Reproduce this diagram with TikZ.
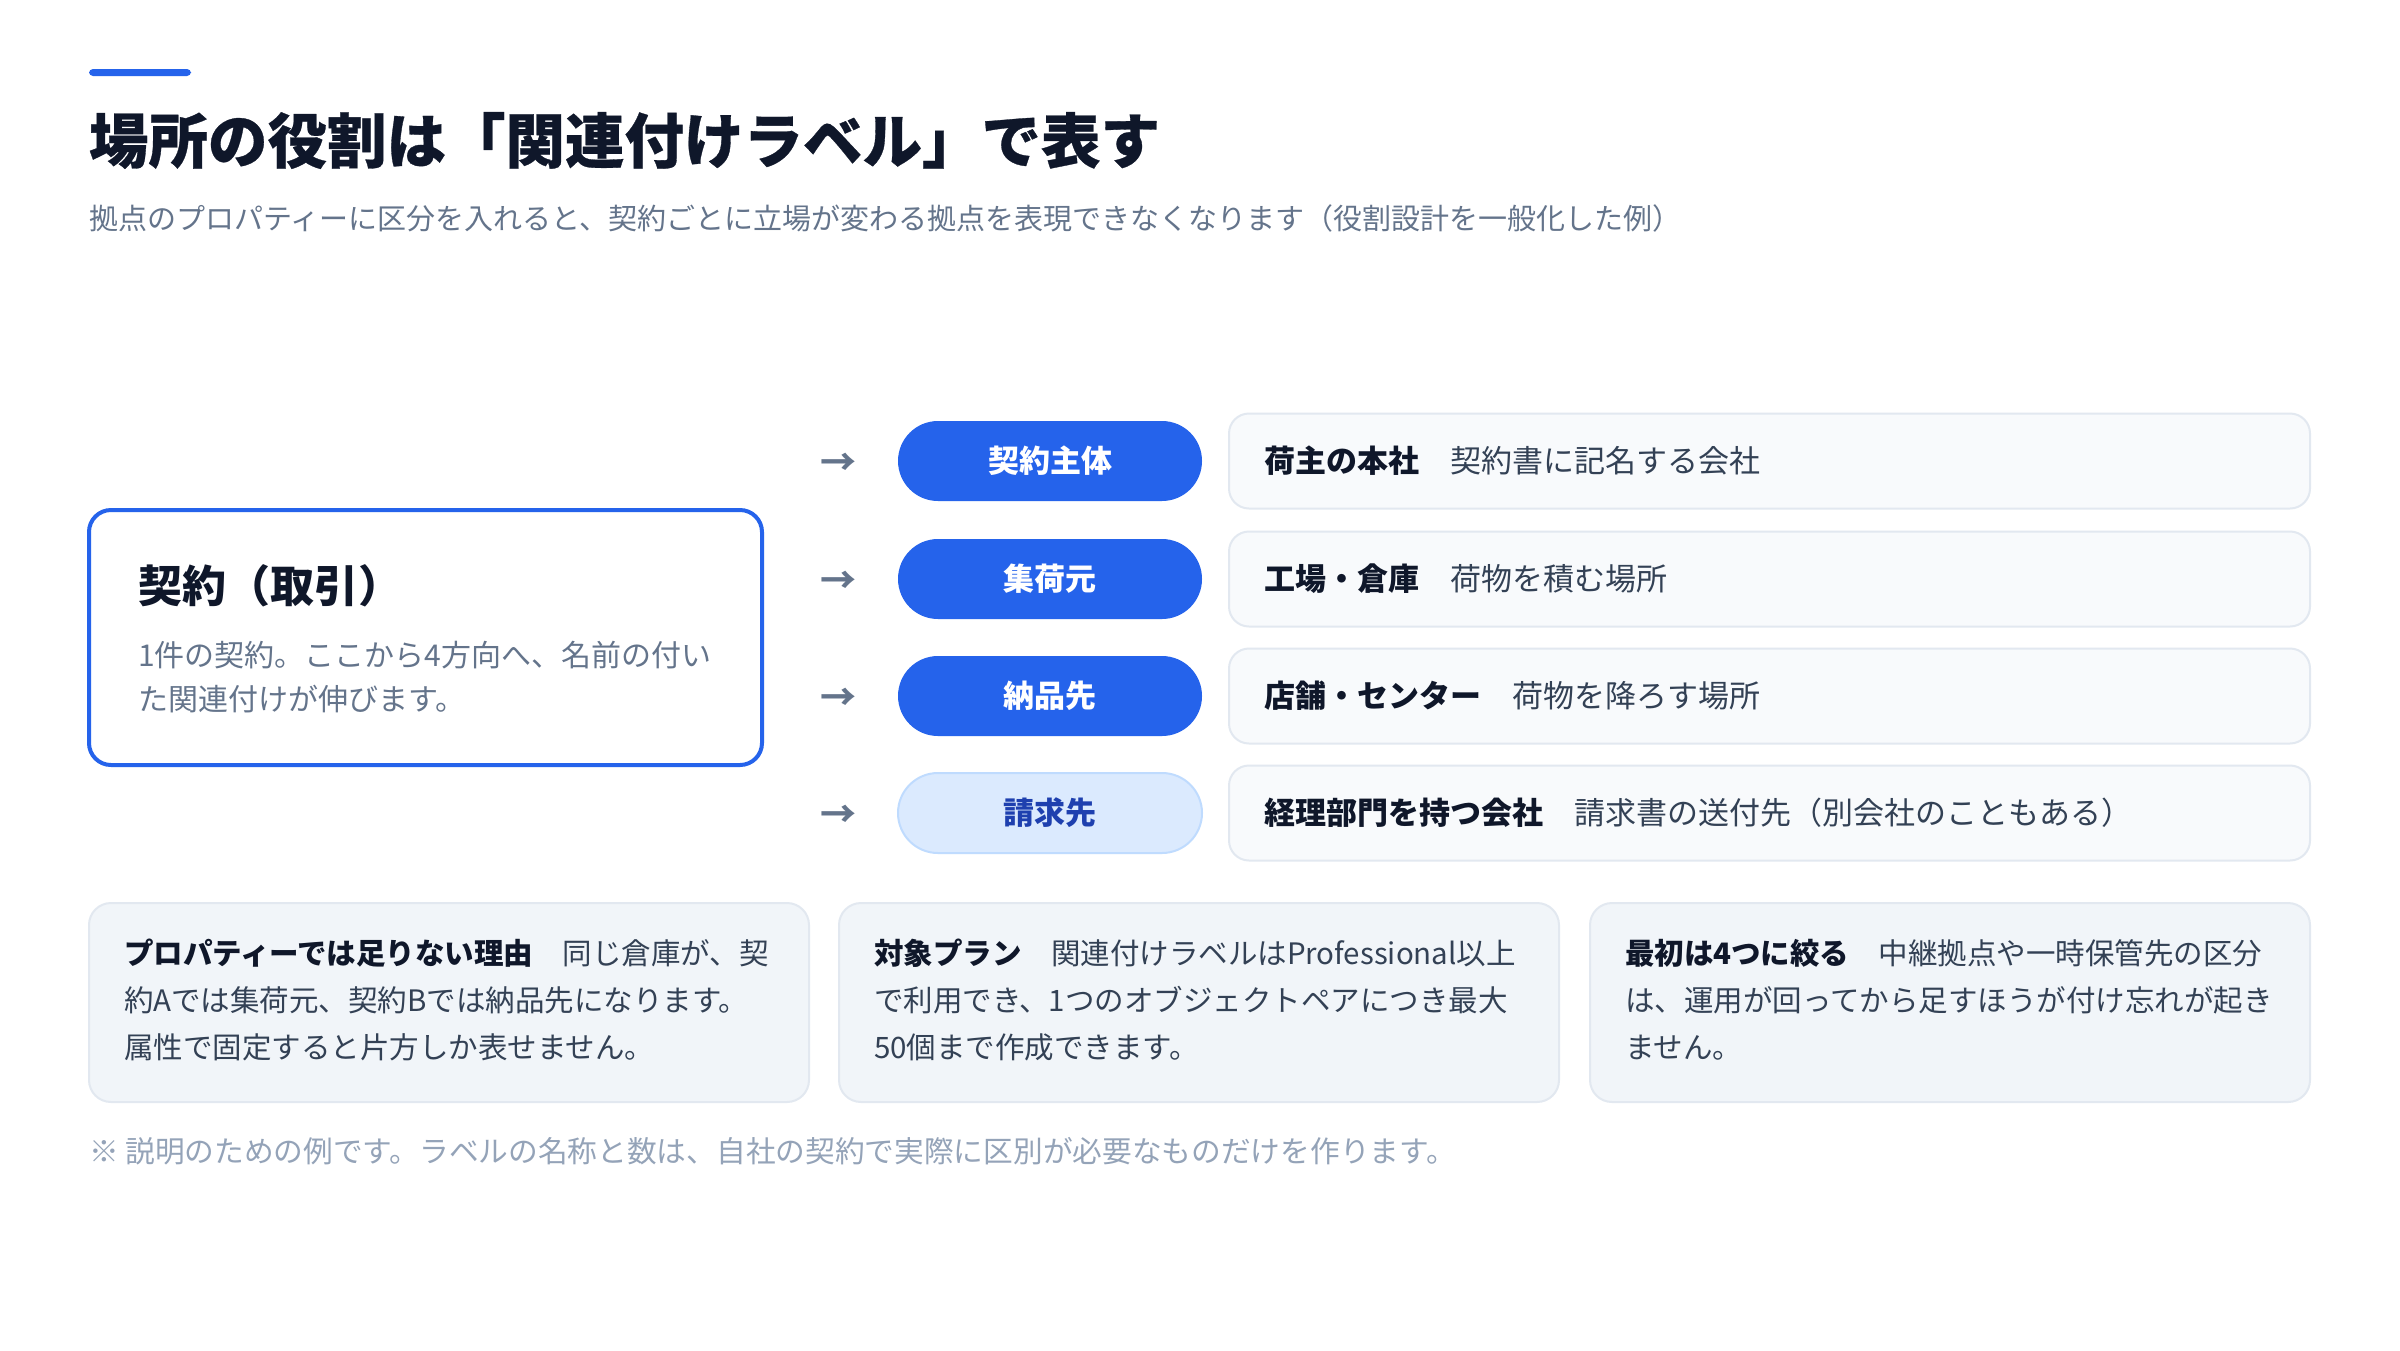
\documentclass[tikz,border=0pt]{standalone}
\usepackage{fontspec}
\setmainfont{Noto Sans CJK JP}
\definecolor{accent}{HTML}{2563EB}
\definecolor{ink}{HTML}{0F172A}
\definecolor{body}{HTML}{334155}
\definecolor{muted}{HTML}{64748B}
\definecolor{faint}{HTML}{94A3B8}
\definecolor{cardfill}{HTML}{F8FAFC}
\definecolor{notefill}{HTML}{F1F5F9}
\definecolor{cardline}{HTML}{E2E8F0}
\definecolor{lightpill}{HTML}{DBEAFE}
\definecolor{lightpillline}{HTML}{BFDBFE}
\definecolor{lightpilltext}{HTML}{1E40AF}
\begin{document}
\begin{tikzpicture}[x=1pt,y=-1pt,
  txt/.style={inner sep=0pt, outer sep=0pt, anchor=base west},
  ctxt/.style={inner sep=0pt, outer sep=0pt, anchor=west},
  pillbox/.style={minimum width=304pt, minimum height=80pt, rounded corners=40pt, inner sep=0pt, outer sep=0pt,
    font=\fontsize{31}{36}\selectfont\bfseries},
  rolecard/.style={draw=cardline, line width=2pt, fill=cardfill, rounded corners=20pt,
    minimum width=1081pt, minimum height=95pt, inner sep=0pt, outer sep=0pt},
  notecard/.style={draw=cardline, line width=2pt, fill=notefill, rounded corners=22pt,
    minimum width=720pt, minimum height=199pt, inner sep=0pt, outer sep=0pt, anchor=north west},
  arrowglyph/.style={inner sep=0pt, outer sep=0pt, text=muted, font=\fontsize{36}{40}\selectfont\bfseries},
  cardtext/.style={ctxt, font=\fontsize{31}{36}\selectfont, text=body},
  notetext/.style={txt, font=\fontsize{29.5}{36}\selectfont, text=body}
]
\useasboundingbox (0,0) rectangle (2400,1350);
\fill[white] (0,0) rectangle (2400,1350);

% accent bar
\fill[accent, rounded corners=4pt] (89,69) rectangle (191,76);

% title and subtitle
\node[txt, font=\fontsize{59.5}{70}\selectfont\bfseries\addfontfeature{FakeBold=0.5}, text=ink] (title) at (89,163) {場所の役割は「関連付けラベル」で表す};
\node[txt, font=\fontsize{29}{36}\selectfont, text=muted] (subtitle) at (89,229) {拠点のプロパティーに区分を入れると、契約ごとに立場が変わる拠点を表現できなくなります（役割設計を一般化した例）};

% contract box
\node[draw=accent, line width=4pt, fill=white, rounded corners=22pt, minimum width=673pt, minimum height=255pt,
  inner sep=0pt, outer sep=0pt, anchor=north west] (contract) at (89,510) {};
\node[txt, font=\fontsize{44}{50}\selectfont\bfseries, text=ink] (contracttitle) at (138,602) {契約（取引）};
\node[txt, font=\fontsize{30}{36}\selectfont, text=muted] (contractline1) at (138,666) {1件の契約。ここから4方向へ、名前の付い};
\node[txt, font=\fontsize{30}{36}\selectfont, text=muted] (contractline2) at (138,710) {た関連付けが伸びます。};

% arrows
\node[arrowglyph] (ar1) at (838,464) {→};
\node[arrowglyph] (ar2) at (838,582) {→};
\node[arrowglyph] (ar3) at (838,699) {→};
\node[arrowglyph] (ar4) at (838,816) {→};

% pills
\node[pillbox, fill=accent, text=white] (p1) at (1050,461) {契約主体};
\node[pillbox, fill=accent, text=white] (p2) at (1050,579) {集荷元};
\node[pillbox, fill=accent, text=white] (p3) at (1050,696) {納品先};
\node[pillbox, fill=lightpill, draw=lightpillline, line width=2pt, text=lightpilltext] (p4) at (1050,813) {請求先};

% role cards
\node[rolecard] (d1) at (1769.5,461) {};
\node[rolecard] (d2) at (1769.5,579) {};
\node[rolecard] (d3) at (1769.5,696) {};
\node[rolecard] (d4) at (1769.5,813) {};
\node[cardtext] (t1) at (1264,461) {\textcolor{ink}{\bfseries 荷主の本社}　契約書に記名する会社};
\node[cardtext] (t2) at (1264,579) {\textcolor{ink}{\bfseries 工場・倉庫}　荷物を積む場所};
\node[cardtext] (t3) at (1264,696) {\textcolor{ink}{\bfseries 店舗・センター}　荷物を降ろす場所};
\node[cardtext] (t4) at (1264,813) {\textcolor{ink}{\bfseries 経理部門を持つ会社}　請求書の送付先（別会社のこともある）};

% note cards
\node[notecard] (n1) at (89,903) {};
\node[notecard] (n2) at (839,903) {};
\node[notecard] (n3) at (1590,903) {};

\node[notetext] (n1a) at (124,964) {\textcolor{ink}{\bfseries プロパティーでは足りない理由}　同じ倉庫が、契};
\node[notetext] (n1b) at (124,1011) {約Aでは集荷元、契約Bでは納品先になります。};
\node[notetext] (n1c) at (124,1058) {属性で固定すると片方しか表せません。};

\node[notetext] (n2a) at (874,964) {\textcolor{ink}{\bfseries 対象プラン}　関連付けラベルはProfessional以上};
\node[notetext] (n2b) at (874,1011) {で利用でき、1つのオブジェクトペアにつき最大};
\node[notetext] (n2c) at (874,1058) {50個まで作成できます。};

\node[notetext] (n3a) at (1625,964) {\textcolor{ink}{\bfseries 最初は4つに絞る}　中継拠点や一時保管先の区分};
\node[notetext] (n3b) at (1625,1011) {は、運用が回ってから足すほうが付け忘れが起き};
\node[notetext] (n3c) at (1625,1058) {ません。};

% footnote
\node[txt, font=\fontsize{29.7}{34}\selectfont, text=faint] (foot) at (89,1162) {※ 説明のための例です。ラベルの名称と数は、自社の契約で実際に区別が必要なものだけを作ります。};
\end{tikzpicture}
\end{document}
